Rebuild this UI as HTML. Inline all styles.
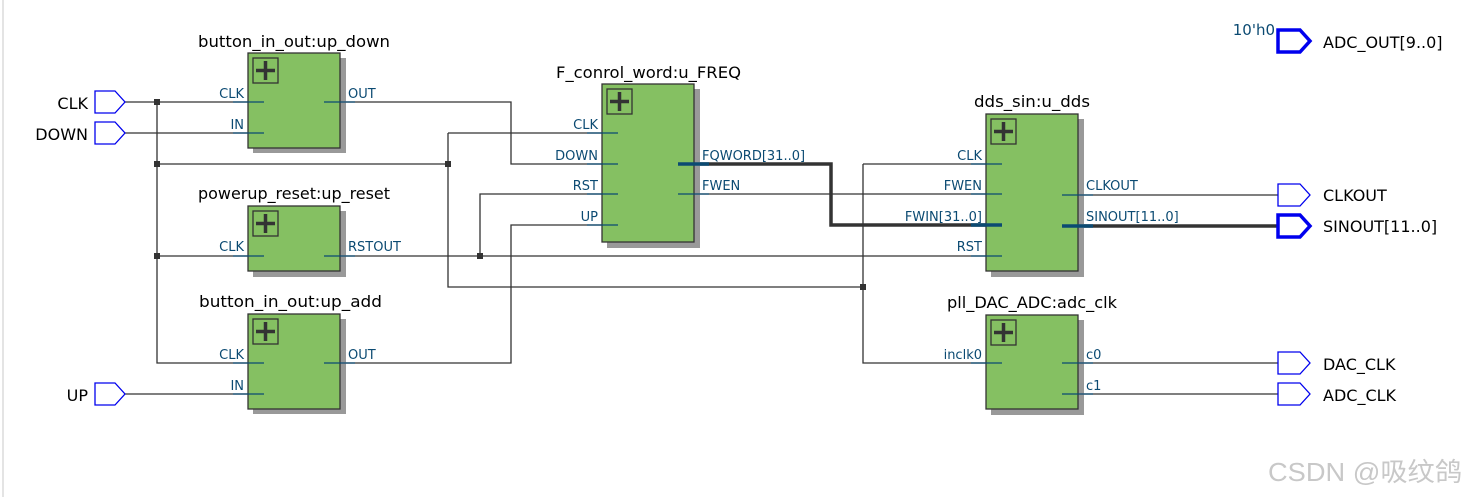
<!DOCTYPE html>
<html><head><meta charset="utf-8"><style>
html,body{margin:0;padding:0;background:#fff}
svg{display:block}
.t{font-family:"DejaVu Sans",sans-serif;font-size:16px;fill:#000}
.p{font-family:"DejaVu Sans",sans-serif;font-size:13px;fill:#0b4a72}
.io{font-family:"DejaVu Sans",sans-serif;font-size:16px;fill:#000}
.w{stroke:#333;stroke-width:1.3;fill:none}
.s{stroke:#0b4a72;stroke-width:1.3}
.b{stroke:#333;stroke-width:3.5;fill:none}
.sb{stroke:#0b4a72;stroke-width:3.5}
</style></head><body>
<svg width="1467" height="497" xmlns="http://www.w3.org/2000/svg">
<rect x="0" y="0" width="1467" height="497" fill="#fff"/>
<line x1="3" y1="0" x2="3" y2="497" stroke="#e4e4e4" stroke-width="2"/>

<g class="w">
<path d="M125 102H248"/>
<path d="M125 133H248"/>
<path d="M157 102V363H248"/>
<path d="M157 256H248"/>
<path d="M157 164H448"/>
<path d="M448 133H602"/>
<path d="M448 133V287H863"/>
<path d="M340 102H511V164H602"/>
<path d="M340 256H986"/>
<path d="M480 256V194H602"/>
<path d="M340 363H511V225H602"/>
<path d="M694 194H986"/>
<path d="M863 164H986"/>
<path d="M863 164V363H986"/>
<path d="M125 394H248"/>
<path d="M1078 195H1278"/>
<path d="M1078 363H1278"/>
<path d="M1078 394H1278"/>
</g>
<path class="b" d="M694 164H831V225H986"/>
<path class="b" d="M1078 226H1278"/>

<g fill="#333">
<rect x="154" y="99" width="6" height="6"/>
<rect x="154" y="161" width="6" height="6"/>
<rect x="154" y="253" width="6" height="6"/>
<rect x="445" y="161" width="6" height="6"/>
<rect x="477" y="253" width="6" height="6"/>
<rect x="860" y="284" width="6" height="6"/>
</g>

<g>
<rect x="253" y="58" width="93" height="95" fill="#999"/>
<rect x="248" y="53" width="92" height="95" fill="#85c062" stroke="#333" stroke-width="1.3"/>
<rect x="253" y="58" width="25" height="25" fill="none" stroke="#333" stroke-width="1.3"/>
<path d="M256 70.5H275M265.5 61V80" stroke="#333" stroke-width="3.5"/>
<text class="t" x="198" y="47" textLength="192" lengthAdjust="spacingAndGlyphs">button_in_out:up_down</text>

<rect x="253" y="211" width="93" height="66" fill="#999"/>
<rect x="248" y="206" width="92" height="65" fill="#85c062" stroke="#333" stroke-width="1.3"/>
<rect x="253" y="211" width="25" height="25" fill="none" stroke="#333" stroke-width="1.3"/>
<path d="M256 223.5H275M265.5 214V233" stroke="#333" stroke-width="3.5"/>
<text class="t" x="198" y="199" textLength="192" lengthAdjust="spacingAndGlyphs">powerup_reset:up_reset</text>

<rect x="253" y="319" width="93" height="95" fill="#999"/>
<rect x="248" y="314" width="92" height="95" fill="#85c062" stroke="#333" stroke-width="1.3"/>
<rect x="253" y="319" width="25" height="25" fill="none" stroke="#333" stroke-width="1.3"/>
<path d="M256 331.5H275M265.5 322V341" stroke="#333" stroke-width="3.5"/>
<text class="t" x="199" y="307" textLength="183" lengthAdjust="spacingAndGlyphs">button_in_out:up_add</text>

<rect x="607" y="89" width="93" height="159" fill="#999"/>
<rect x="602" y="84" width="92" height="158" fill="#85c062" stroke="#333" stroke-width="1.3"/>
<rect x="607" y="89" width="25" height="25" fill="none" stroke="#333" stroke-width="1.3"/>
<path d="M610 101.5H629M619.5 92V111" stroke="#333" stroke-width="3.5"/>
<text class="t" x="556" y="78" textLength="185" lengthAdjust="spacingAndGlyphs">F_conrol_word:u_FREQ</text>

<rect x="991" y="119" width="93" height="158" fill="#999"/>
<rect x="986" y="114" width="92" height="157" fill="#85c062" stroke="#333" stroke-width="1.3"/>
<rect x="991" y="119" width="25" height="25" fill="none" stroke="#333" stroke-width="1.3"/>
<path d="M994 131.5H1013M1003.5 122V141" stroke="#333" stroke-width="3.5"/>
<text class="t" x="974" y="107" textLength="116" lengthAdjust="spacingAndGlyphs">dds_sin:u_dds</text>

<rect x="991" y="320" width="93" height="95" fill="#999"/>
<rect x="986" y="315" width="92" height="94" fill="#85c062" stroke="#333" stroke-width="1.3"/>
<rect x="991" y="320" width="25" height="25" fill="none" stroke="#333" stroke-width="1.3"/>
<path d="M994 332.5H1013M1003.5 323V342" stroke="#333" stroke-width="3.5"/>
<text class="t" x="947" y="308" textLength="170" lengthAdjust="spacingAndGlyphs">pll_DAC_ADC:adc_clk</text>
</g>

<g class="s">
<path d="M233 102H264M233 133H264M233 256H264M233 363H264M233 394H264"/>
<path d="M324 102H355M324 256H355M324 363H355"/>
<path d="M587 133H618M587 164H618M587 194H618M587 225H618"/>
<path d="M678 194H709"/>
<path d="M971 164H1002M971 194H1002M971 256H1002M971 363H1002"/>
<path d="M1062 195H1093M1062 363H1093M1062 394H1093"/>
</g>
<g class="sb">
<path d="M678 164H709M971 225H1002M1062 226H1093"/>
</g>

<g class="p">
<text x="244" y="98" text-anchor="end">CLK</text>
<text x="244" y="129" text-anchor="end">IN</text>
<text x="348" y="98">OUT</text>
<text x="244" y="251" text-anchor="end">CLK</text>
<text x="348" y="251">RSTOUT</text>
<text x="244" y="359" text-anchor="end">CLK</text>
<text x="244" y="390" text-anchor="end">IN</text>
<text x="348" y="359">OUT</text>
<text x="598" y="129" text-anchor="end">CLK</text>
<text x="598" y="160" text-anchor="end">DOWN</text>
<text x="598" y="190" text-anchor="end">RST</text>
<text x="598" y="221" text-anchor="end">UP</text>
<text x="702" y="160">FQWORD[31..0]</text>
<text x="702" y="190">FWEN</text>
<text x="982" y="160" text-anchor="end">CLK</text>
<text x="982" y="190" text-anchor="end">FWEN</text>
<text x="982" y="221" text-anchor="end">FWIN[31..0]</text>
<text x="982" y="251" text-anchor="end">RST</text>
<text x="1086" y="190">CLKOUT</text>
<text x="1086" y="221">SINOUT[11..0]</text>
<text x="982" y="359" text-anchor="end">inclk0</text>
<text x="1086" y="359">c0</text>
<text x="1086" y="390">c1</text>
<text x="1275" y="35" text-anchor="end" style="font-size:15px">10'h0</text>
</g>

<g fill="#fff" stroke="#0000ee" stroke-width="1.3">
<path d="M95 91H115L125 102L115 113H95Z"/>
<path d="M95 122H115L125 133L115 144H95Z"/>
<path d="M95 383H115L125 394L115 405H95Z"/>
<path d="M1278 184H1300L1310 195L1300 206H1278Z"/>
<path d="M1278 352H1300L1310 363L1300 374H1278Z"/>
<path d="M1278 383H1300L1310 394L1300 405H1278Z"/>
</g>
<g fill="#fff" stroke="#0000ee" stroke-width="3.5">
<path d="M1278 30H1300L1310 41L1300 52H1278Z"/>
<path d="M1278 215H1300L1310 226L1300 237H1278Z"/>
</g>
<g class="io">
<text x="88" y="109" text-anchor="end">CLK</text>
<text x="88" y="140" text-anchor="end">DOWN</text>
<text x="88" y="401" text-anchor="end">UP</text>
<text x="1323" y="48">ADC_OUT[9..0]</text>
<text x="1323" y="201">CLKOUT</text>
<text x="1323" y="232">SINOUT[11..0]</text>
<text x="1323" y="370">DAC_CLK</text>
<text x="1323" y="401">ADC_CLK</text>
</g>
<text x="1268" y="481" textLength="194" lengthAdjust="spacingAndGlyphs" style="font-family:'Liberation Sans','Noto Sans CJK SC',sans-serif;font-size:26px;fill:#c8c8c8">CSDN @吸纹鸽</text>
</svg>
</body></html>
